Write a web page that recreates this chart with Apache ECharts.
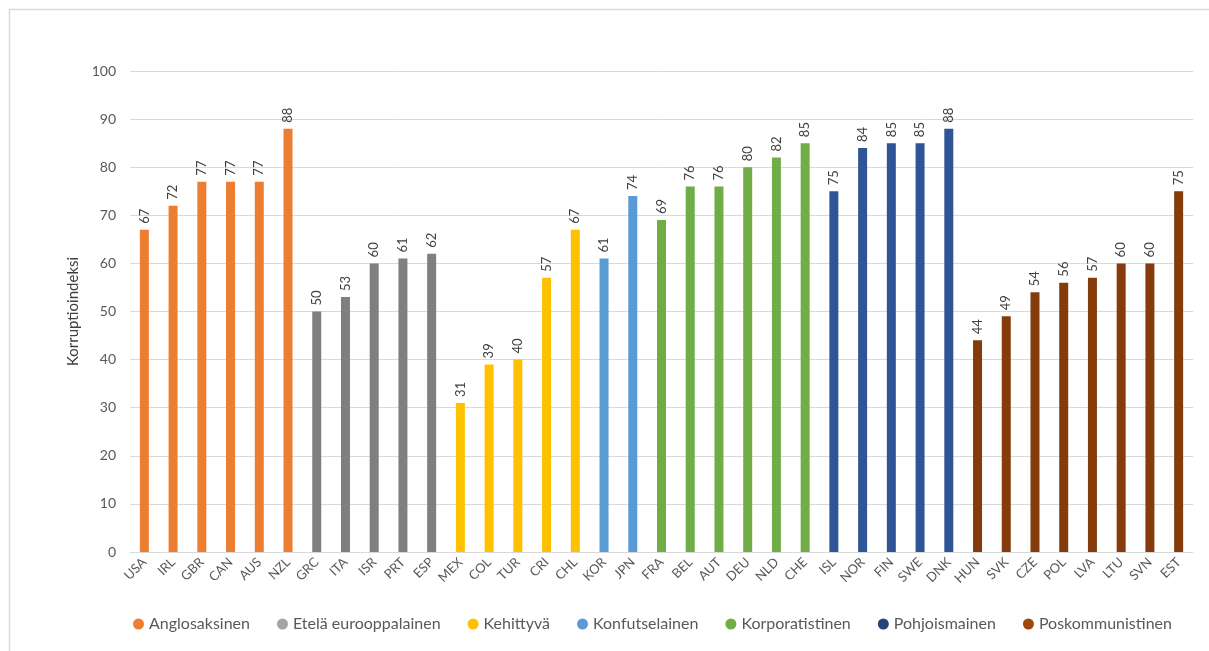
<!DOCTYPE html>
<html>
<head>
<meta charset="utf-8">
<script src="https://cdn.jsdelivr.net/npm/echarts@6/dist/echarts.min.js"></script>
<style>
  html, body { margin: 0; padding: 0; background: #fff; }
  #chart { width: 1209px; height: 651px; }
</style>
</head>
<body>
<div id="chart"></div>
<script>
// Country groups and their corruption index values
const groupNames = ['Anglosaksinen', 'Etelä eurooppalainen', 'Kehittyvä', 'Konfutselainen',
                    'Korporatistinen', 'Pohjoismainen', 'Poskommunistinen'];

const anglosaksinenCountries = ['USA', 'IRL', 'GBR', 'CAN', 'AUS', 'NZL'];
const anglosaksinenValues    = [67, 72, 77, 77, 77, 88];

const etelaCountries = ['GRC', 'ITA', 'ISR', 'PRT', 'ESP'];
const etelaValues    = [50, 53, 60, 61, 62];

const kehittyvaCountries = ['MEX', 'COL', 'TUR', 'CRI', 'CHL'];
const kehittyvaValues    = [31, 39, 40, 57, 67];

const konfutselainenCountries = ['KOR', 'JPN'];
const konfutselainenValues    = [61, 74];

const korporatistinenCountries = ['FRA', 'BEL', 'AUT', 'DEU', 'NLD', 'CHE'];
const korporatistinenValues    = [69, 76, 76, 80, 82, 85];

const pohjoismainenCountries = ['ISL', 'NOR', 'FIN', 'SWE', 'DNK'];
const pohjoismainenValues    = [75, 84, 85, 85, 88];

const poskommunistinenCountries = ['HUN', 'SVK', 'CZE', 'POL', 'LVA', 'LTU', 'SVN', 'EST'];
const poskommunistinenValues    = [44, 49, 54, 56, 57, 60, 60, 75];

const yTicks = [0, 10, 20, 30, 40, 50, 60, 70, 80, 90, 100];

const groups = [
  { countries: anglosaksinenCountries, values: anglosaksinenValues },
  { countries: etelaCountries, values: etelaValues },
  { countries: kehittyvaCountries, values: kehittyvaValues },
  { countries: konfutselainenCountries, values: konfutselainenValues },
  { countries: korporatistinenCountries, values: korporatistinenValues },
  { countries: pohjoismainenCountries, values: pohjoismainenValues },
  { countries: poskommunistinenCountries, values: poskommunistinenValues }
];

const barColors    = ['#ED7D31', '#7F7F7F', '#FFC000', '#5B9BD5', '#70AD47', '#2F5597', '#843C0C'];
const legendColors = ['#ED7D31', '#A5A5A5', '#FFC000', '#5B9BD5', '#70AD47', '#264478', '#9E480E'];

const categories = [].concat(...groups.map(g => g.countries));

const FONT = 'Lato, "Open Sans", sans-serif';

const series = groups.map((g, gi) => {
  const data = categories.map(c => {
    const idx = g.countries.indexOf(c);
    return idx >= 0 ? g.values[idx] : '-';
  });
  return {
    name: groupNames[gi],
    type: 'bar',
    stack: 'all',
    barWidth: 9,
    data: data,
    itemStyle: { color: barColors[gi] },
    label: {
      show: true,
      position: 'top',
      rotate: 90,
      align: 'left',
      verticalAlign: 'middle',
      distance: 6,
      color: '#404040',
      fontFamily: FONT,
      fontSize: 13
    }
  };
});

const chart = echarts.init(document.getElementById('chart'));
chart.setOption({
  animation: false,
  backgroundColor: '#fff',
  graphic: [{
    type: 'rect',
    left: 7, top: 7,
    shape: { width: 1230, height: 670 },
    style: { fill: 'none', stroke: '#D9D9D9', lineWidth: 1.5 },
    silent: true,
    z: -1
  }],
  grid: { left: 130, right: 16, top: 71, bottom: 99 },
  legend: {
    bottom: 14,
    left: 128,
    icon: 'circle',
    itemWidth: 11,
    itemHeight: 11,
    itemGap: 27,
    textStyle: { color: '#595959', fontFamily: FONT, fontSize: 16 },
    data: groupNames.map((n, i) => ({ name: n, itemStyle: { color: legendColors[i] } }))
  },
  xAxis: {
    type: 'category',
    data: categories,
    axisTick: { show: false },
    axisLine: { lineStyle: { color: '#D9D9D9', width: 1 } },
    axisLabel: {
      interval: 0,
      rotate: 45,
      margin: 8,
      color: '#595959',
      fontFamily: FONT,
      fontSize: 13
    }
  },
  yAxis: {
    type: 'value',
    min: yTicks[0],
    max: yTicks[yTicks.length - 1],
    interval: 10,
    name: 'Korruptioindeksi',
    nameLocation: 'middle',
    nameGap: 47,
    nameTextStyle: { color: '#404040', fontFamily: FONT, fontSize: 15 },
    axisLine: { show: false },
    axisTick: { show: false },
    axisLabel: { color: '#595959', fontFamily: FONT, fontSize: 14, margin: 14 },
    splitLine: { lineStyle: { color: '#D9D9D9', width: 1 } }
  },
  series: series
});
</script>
</body>
</html>
